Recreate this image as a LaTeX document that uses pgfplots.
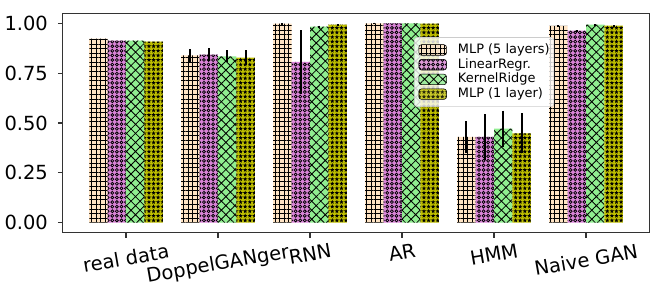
\documentclass[border=0pt]{standalone}
\usepackage{fontspec}
\setmainfont{DejaVu Sans}
\usepackage{pgfplots}
\pgfplotsset{compat=1.18}
\usepackage{pgfplotstable}
\usetikzlibrary{patterns,patterns.meta}

\definecolor{cbisque}{HTML}{FFE4C4}
\definecolor{corchid}{HTML}{D883D6}
\definecolor{cgreen}{HTML}{90EE90}
\definecolor{colive}{HTML}{BFBF00}
\definecolor{legedge}{HTML}{CCCCCC}

\tikzdeclarepattern{
  name=mpcircles, type=uncolored,
  bottom left={(-.1pt,-.1pt)}, top right={(3.4pt,3.4pt)},
  tile size={(3.3pt,3.3pt)},
  code={\draw[line width=0.55pt] (1.65pt,1.65pt) circle (1.05pt);}
}
\tikzdeclarepattern{
  name=mpstars, type=uncolored,
  bottom left={(-.1pt,-.1pt)}, top right={(3.4pt,3.4pt)},
  tile size={(3.3pt,3.3pt)},
  code={\fill[shift={(1.65pt,1.65pt)}] (90:1.65pt) -- (126:0.7pt) -- (162:1.65pt) -- (198:0.7pt) -- (234:1.65pt) -- (270:0.7pt) -- (306:1.65pt) -- (342:0.7pt) -- (18:1.65pt) -- (54:0.7pt) -- cycle;}
}

\pgfplotstableread{
x  a     ea     b     eb     c     ec     d     ed
0  0.923 0.000  0.913 0.000  0.913 0.000  0.908 0.000
1  0.839 0.031  0.843 0.031  0.834 0.030  0.828 0.036
2  0.998 0.003  0.806 0.160  0.983 0.005  0.993 0.002
3  1.000 0.003  1.000 0.000  1.000 0.000  0.998 0.000
4  0.430 0.080  0.430 0.116  0.472 0.090  0.448 0.100
5  0.987 0.003  0.963 0.003  0.993 0.003  0.988 0.003
}\datatable

\begin{document}
\begin{tikzpicture}
\begin{axis}[
  scale only axis,
  width=422.35pt, height=157.97pt,
  xmin=-0.688, xmax=5.688,
  ymin=-0.05, ymax=1.05,
  ybar, bar width=0.2,
  xtick={0,1,2,3,4,5},
  xticklabels={\rotatebox{10}{real data},\rotatebox{10}{DoppelGANger},\rotatebox{10}{RNN},\rotatebox{10}{AR},\rotatebox{10}{HMM},\rotatebox{10}{Naive GAN}},
  ytick={0,0.25,0.5,0.75,1},
  yticklabel style={/pgf/number format/fixed, /pgf/number format/fixed zerofill, /pgf/number format/precision=2, /pgf/number format/assume math mode=true},
  tick label style={font=\fontsize{14}{16}\selectfont, inner sep=0pt},
  xticklabel style={anchor=north, yshift=-3.8pt},
  yticklabel style={anchor=east, xshift=-7pt},
  tick align=outside,
  major tick length=3.5pt,
  tick style={black!80, line width=0.8pt},
  xtick pos=bottom, ytick pos=left,
  axis line style={black!80, line width=1pt},
  legend style={at={(0.599,0.891)}, anchor=north west,
    font=\fontsize{9.3}{11}\selectfont,
    draw=legedge, fill=white, fill opacity=0.8, text opacity=1,
    rounded corners=2pt, inner xsep=3pt, inner ysep=4.5pt,
    row sep=1.6pt, column sep=8pt,
    nodes={inner sep=0pt, text height=7pt, text depth=2pt}},
  legend cell align=left,
  legend image code/.code={\draw[#1] (0pt,-3.8pt) rectangle (20pt,3.8pt);},
  error bars/error bar style={line width=1.5pt, black},
  error bars/error mark=none,
]
\addplot[draw=none, fill=cbisque, bar shift=-0.3, postaction={pattern={Hatch[angle=0,distance=3.3pt,line width=0.6pt]}},
  error bars/.cd, y dir=both, y explicit] table[x=x, y=a, y error=ea] {\datatable};
\addplot[draw=none, fill=corchid, bar shift=-0.1, postaction={pattern=mpcircles},
  error bars/.cd, y dir=both, y explicit] table[x=x, y=b, y error=eb] {\datatable};
\addplot[draw=none, fill=cgreen, bar shift=0.1, postaction={pattern={Hatch[angle=45,distance=4.6pt,line width=0.6pt]}},
  error bars/.cd, y dir=both, y explicit] table[x=x, y=c, y error=ec] {\datatable};
\addplot[draw=none, fill=colive, bar shift=0.3, postaction={pattern=mpstars},
  error bars/.cd, y dir=both, y explicit] table[x=x, y=d, y error=ed] {\datatable};
\legend{MLP (5 layers),LinearRegr.,KernelRidge,MLP (1 layer)}
\coordinate (SW) at (rel axis cs:0,0);
\coordinate (NE) at (rel axis cs:1,1);
\end{axis}
\pgfresetboundingbox
\path ([shift={(-45.14pt,-45.58pt)}]SW) rectangle ([shift={(10.58pt,9.58pt)}]NE);
\end{tikzpicture}
\end{document}
